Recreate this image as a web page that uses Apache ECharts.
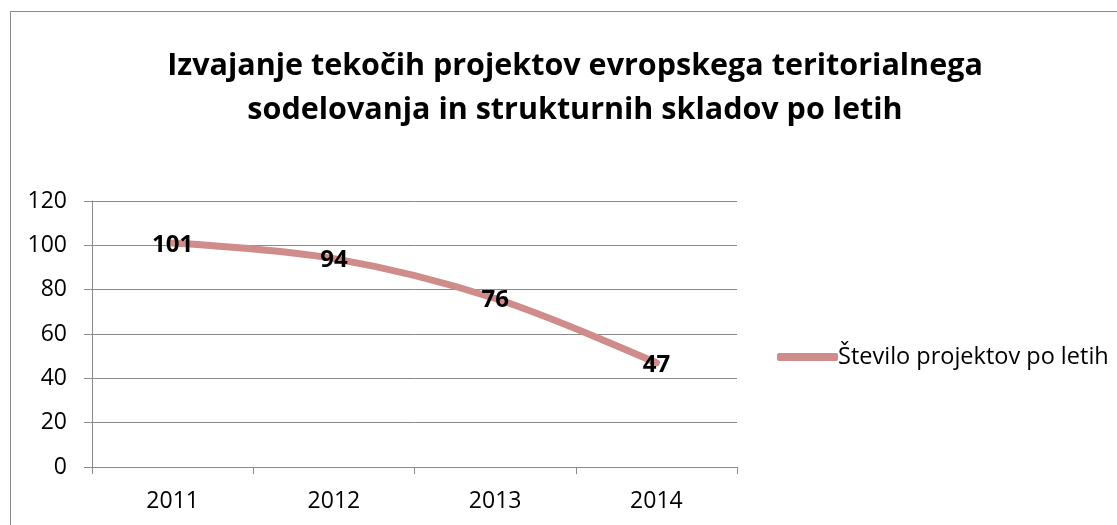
<!DOCTYPE html>
<html>
<head>
<meta charset="utf-8">
<script src="https://cdn.jsdelivr.net/npm/echarts@6/dist/echarts.min.js"></script>
<style>
html,body{margin:0;padding:0;background:#fff;overflow:hidden;}
#frame{position:absolute;left:10px;top:11px;width:1200px;height:600px;border:1.5px solid #8a8a8a;box-sizing:border-box;}
#chart{position:absolute;left:0;top:0;width:1117px;height:525px;}
</style>
</head>
<body>
<div id="frame"></div>
<div id="chart"></div>
<script>
const titleLines = ["Izvajanje tekočih projektov evropskega teritorialnega", "sodelovanja in strukturnih skladov po letih"];
const categories = ["2011", "2012", "2013", "2014"];
const seriesName = "Število projektov po letih";
const values = [101, 94, 76, 47];
const yTicks = {min: 0, max: 120, interval: 20};

const font = "'Open Sans', sans-serif";
const lineColor = '#d08c8a';
const chart = echarts.init(document.getElementById('chart'), null, {renderer: 'canvas'});
chart.setOption({
  animation: false,
  title: {
    text: titleLines.join("\n"),
    left: 570, top: 39, textAlign: 'center',
    textStyle: {fontFamily: font, fontSize: 30.5, fontWeight: 'bold', color: '#000', lineHeight: 44}
  },
  legend: {
    left: 772, top: 340,
    icon: 'roundRect', itemWidth: 61, itemHeight: 8, itemGap: 0,
    itemStyle: {color: lineColor},
    textStyle: {fontFamily: font, fontSize: 23.5, color: '#000', padding: [0,0,0,-5]},
    data: [seriesName]
  },
  grid: {left: 92, right: 380, top: 201, bottom: 58, containLabel: false},
  xAxis: {
    type: 'category', data: categories, boundaryGap: true,
    axisLine: {lineStyle: {color: '#8a8a8a', width: 1}},
    axisTick: {show: true, length: 7, lineStyle: {color: '#8a8a8a'}, alignWithLabel: false},
    axisLabel: {fontFamily: font, fontSize: 23, color: '#000', margin: 23}
  },
  yAxis: {
    type: 'value', min: yTicks.min, max: yTicks.max, interval: yTicks.interval,
    axisLine: {show: true, lineStyle: {color: '#8a8a8a', width: 1}},
    axisTick: {show: true, length: 8, lineStyle: {color: '#8a8a8a'}},
    axisLabel: {fontFamily: font, fontSize: 23, color: '#000', margin: 25},
    splitLine: {show: true, lineStyle: {color: '#8a8a8a', width: 1}}
  },
  series: [{
    name: seriesName, type: 'line', data: values, smooth: 0.35,
    symbol: 'circle', symbolSize: 0.1, showSymbol: true,
    lineStyle: {color: lineColor, width: 7, cap: 'round'},
    itemStyle: {color: lineColor},
    label: {show: true, position: 'inside', fontFamily: font, fontSize: 24, fontWeight: 'bold', color: '#000', offset: [0, 2]}
  }]
});
</script>
</body>
</html>
